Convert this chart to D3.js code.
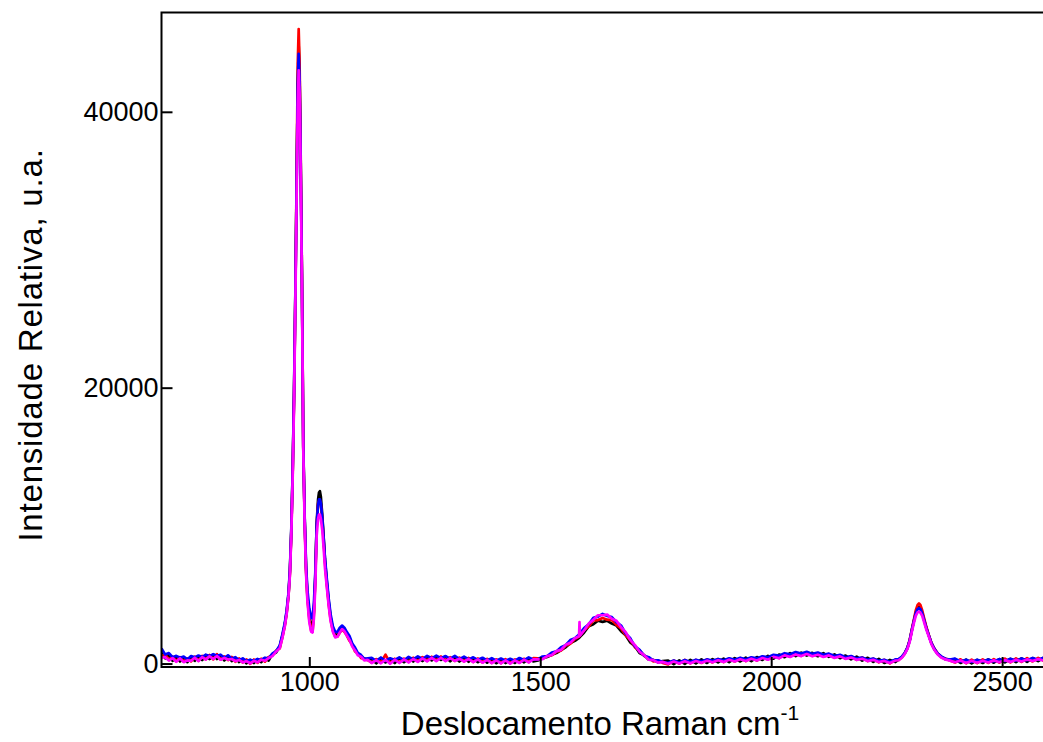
<!DOCTYPE html>
<html>
<head>
<meta charset="utf-8">
<script src="https://cdn.jsdelivr.net/npm/d3@7/dist/d3.min.js"></script>
<style>
  html, body { margin: 0; padding: 0; background: #fff; }
  svg { display: block; }
  text { font-family: "Liberation Sans", Arial, sans-serif; fill: #000; }
</style>
</head>
<body>
<svg id="chart" width="1043" height="742"></svg>
<script>
// Raman shift (cm-1) sample positions
const wavenumber = [
  680,688,696,704,712,720,728,736,744,752,760,768,776,784,792,800,808,816,824,832,840,848,856,864,872,880,888,896,904,912,920,928,936,
  942,947,951,955,958,961,964,967,970,973,975,977,979,981,984,987,990,993,996,1000,1004,1007,1010,1013,1016,1019,1021,1023,1025,1028,1031,1034,1038,1042,1046,1051,1056,1061,1066,1071,1076,1081,1087,1093,1099,1105,1112,1119,1127,
  1135,1145,1155,1165,1175,1185,1195,1205,1215,1225,1235,1245,1255,1265,1275,1285,1295,1305,1315,1325,1335,1345,1355,1365,1375,1385,1395,1405,1415,1425,1435,1445,1455,1465,1475,1485,
  1495,1505,1515,1525,1535,1545,1555,1565,1575,1584,1585,1586,1595,1605,1615,1625,1635,1645,1655,1665,1675,1685,1695,1705,1715,1725,1735,1745,1755,1765,
  1777,1789,1801,1813,1825,1837,1849,1861,1873,1885,1897,1909,1921,1933,1945,1957,1969,1981,1993,2005,2017,2029,2041,2053,2065,2077,2089,2101,2113,2125,2137,2149,2161,2173,2185,2197,2209,2221,2233,2245,2257,2269,
  2276,2283,2289,2295,2300,2305,2309,2313,2317,2320,2323,2327,2331,2336,2341,2347,2353,2360,2368,2377,2387,
  2398,2410,2422,2434,2446,2458,2470,2482,2494,2506,2518,2530,2542,2554,2566,2578,2590
];

const seriesBlack = [
  780,380,650,200,480,150,430,100,420,200,520,250,600,320,650,330,580,230,550,180,420,110,330,20,260,40,320,100,400,220,680,800,1250,
  2050,2850,3750,5000,6700,9600,13900,19600,27200,36300,41800,44800,42700,37600,28100,15600,10500,6900,4900,3400,2700,2600,3800,6300,10200,11900,12400,12500,12100,10800,9200,7500,5900,4500,3400,2500,2100,2100,2400,2600,2450,2150,1850,1330,1040,680,560,290,300,
  330,20,380,80,310,40,400,100,420,150,460,180,500,230,480,260,510,170,480,150,420,130,390,100,360,60,330,30,300,40,290,50,330,90,370,150,
  220,380,470,640,760,980,1180,1480,1650,1860,1900,1930,2250,2700,2850,3100,3020,3100,2900,2750,2350,2050,1530,1250,760,600,280,270,80,180,
  220,-40,230,-20,260,20,300,40,320,80,360,110,400,150,430,180,470,260,560,350,650,460,750,540,790,580,780,530,750,490,660,390,580,300,500,210,420,120,340,40,260,110,
  300,470,720,1120,1680,2480,3100,3680,4020,4120,4000,3680,3170,2570,2060,1460,1040,710,500,310,260,
  320,40,280,20,270,40,300,60,320,90,340,110,370,130,400,180,420
];

const seriesRed = [
  560,650,280,500,150,470,140,380,160,500,200,560,300,620,300,680,280,520,250,480,130,370,70,300,-20,290,60,350,140,480,560,930,1100,
  1950,2750,3650,4950,6500,9400,13700,19400,27000,37000,43500,46000,43500,38000,28300,15700,10300,6700,4700,3200,2400,2300,3600,6100,10000,11600,11800,11800,11500,10500,8900,7300,5700,4300,3200,2400,1950,1950,2250,2450,2300,2050,1650,1380,880,740,400,380,240,
  60,320,70,650,20,350,90,360,110,420,160,470,200,500,210,520,200,460,190,430,150,410,110,370,80,340,50,310,30,320,20,300,60,350,100,390,
  380,350,540,600,840,950,1290,1440,1780,1950,2000,2040,2420,2700,3120,3150,3300,3180,3150,2800,2550,2050,1700,1180,950,550,420,160,220,50,
  -60,220,-10,260,10,270,40,300,80,330,110,370,150,400,180,430,220,490,300,580,400,690,500,760,560,790,550,750,500,690,440,600,350,530,270,440,180,350,90,270,20,290,
  260,480,740,1150,1720,2560,3200,3850,4250,4360,4250,3850,3300,2650,2100,1500,1100,760,460,360,220,
  70,310,20,280,30,300,50,320,70,350,90,370,120,390,150,410,200
];

const seriesBlue = [
  1100,650,760,460,560,420,500,300,540,450,580,470,640,540,680,560,640,420,600,360,460,260,370,180,270,190,330,260,420,380,720,900,1300,
  2150,2950,3850,5150,6800,9700,14000,19800,27300,36000,42000,44200,42300,37400,28000,15800,10600,7100,5300,4000,3300,3300,4400,6600,10100,11500,11900,11900,11600,10600,9100,7600,6100,4700,3600,2700,2300,2300,2600,2750,2600,2300,2000,1450,1160,770,620,340,380,
  420,200,440,200,380,260,450,240,480,300,520,330,560,380,570,390,540,360,550,320,500,300,450,270,420,230,390,200,360,210,340,210,400,250,440,290,
  300,510,540,800,880,1180,1330,1700,1830,2100,2150,2180,2580,2850,3310,3400,3600,3450,3370,3000,2760,2170,1830,1250,990,570,460,220,240,110,
  60,220,80,250,110,270,170,300,200,330,240,380,280,410,310,450,370,530,460,630,570,750,670,830,720,850,700,800,640,720,550,630,460,540,370,440,280,360,190,270,120,300,
  330,500,760,1160,1700,2500,3080,3650,3950,4020,3950,3640,3150,2560,2060,1480,1080,750,520,350,280,
  360,150,280,120,270,150,290,160,320,190,340,210,370,240,400,270,430
];

const seriesMagenta = [
  420,460,220,400,120,380,100,230,200,420,180,470,290,520,330,550,280,410,290,330,170,260,80,180,20,200,90,280,200,400,540,860,1120,
  1900,2700,3600,4900,6400,9300,13500,19000,26500,35000,40500,43000,41300,36500,27500,15400,10000,6500,4500,3000,2300,2250,3300,5600,9300,10500,10800,10800,10500,9700,8400,6900,5500,4200,3100,2300,1900,1950,2250,2500,2350,2050,1720,1240,950,600,500,230,260,
  40,250,20,270,-20,280,40,300,80,330,120,370,160,410,170,420,170,390,190,350,140,330,100,300,60,260,30,240,10,230,0,230,40,280,80,310,
  310,320,540,620,900,990,1360,1500,1840,1980,3000,2030,2400,2900,3170,3500,3500,3550,3250,3100,2630,2280,1710,1340,850,610,280,250,70,120,
  -10,150,10,170,20,180,60,210,90,240,120,280,150,310,180,350,220,400,280,480,380,590,480,660,540,690,530,640,480,590,410,520,340,440,270,350,180,270,110,190,40,220,
  240,420,680,1060,1600,2380,2950,3450,3720,3760,3700,3450,3000,2450,1980,1400,1000,680,440,300,210,
  90,220,40,200,60,210,70,230,100,250,120,270,150,300,180,320,210
];

const seriesNames = ["black", "red", "blue", "magenta"];
const seriesColors = ["#000000", "#ff0000", "#0000ff", "#ff00ff"];
const xTicks = [1000, 1500, 2000, 2500];
const yTicks = [0, 20000, 40000];
const xTitle = "Deslocamento Raman cm";
const xTitleSup = "-1";
const yTitle = "Intensidade Relativa, u.a.";

const allSeries = [seriesBlack, seriesRed, seriesBlue, seriesMagenta];

const svg = d3.select("#chart");
const W = 1043, H = 742;
const plotLeft = 161.5, plotTop = 12.5, plotBottom = 667, plotRight = 1043.7;

const x = d3.scaleLinear().domain([680, 2590]).range([plotLeft, plotRight]);
const y = d3.scaleLinear().domain([-250, 47200]).range([plotBottom, plotTop]);

svg.append("defs").append("clipPath").attr("id", "plotclip")
  .append("rect").attr("x", plotLeft).attr("y", plotTop).attr("width", W - plotLeft).attr("height", plotBottom - plotTop);

const line = d3.line().x(d => x(d[0])).y(d => y(d[1]));

const g = svg.append("g").attr("clip-path", "url(#plotclip)");
allSeries.forEach((vals, i) => {
  const n = Math.min(vals.length, wavenumber.length);
  const pts = d3.range(n).map(j => [wavenumber[j], vals[j]]);
  g.append("path")
    .datum(pts)
    .attr("fill", "none")
    .attr("stroke", seriesColors[i])
    .attr("stroke-width", 2.7)
    .attr("stroke-linejoin", "round")
    .attr("d", line);
});

// frame: left, bottom, top
svg.append("path")
  .attr("d", `M${W},${plotTop}H${plotLeft}V${plotBottom}H${W}`)
  .attr("fill", "none").attr("stroke", "#000").attr("stroke-width", 2);

// x axis ticks & labels
const xAxis = d3.axisBottom(x).tickValues(xTicks).tickSize(0).tickPadding(5).tickFormat(d3.format("d"));
const gx = svg.append("g").attr("transform", `translate(0,${plotBottom})`).call(xAxis);
gx.select(".domain").remove();
gx.selectAll(".tick text").attr("font-size", 27).attr("font-family", '"Liberation Sans", Arial, sans-serif').attr("fill", "#000");
gx.selectAll(".tick").append("line").attr("y1", 0).attr("y2", -10).attr("stroke", "#000").attr("stroke-width", 2);

// y axis ticks & labels
const yAxis = d3.axisLeft(y).tickValues(yTicks).tickSize(0).tickPadding(3).tickFormat(d3.format("d"));
const gy = svg.append("g").attr("transform", `translate(${plotLeft},0)`).call(yAxis);
gy.select(".domain").remove();
gy.selectAll(".tick text").attr("font-size", 27).attr("font-family", '"Liberation Sans", Arial, sans-serif').attr("fill", "#000");
gy.selectAll(".tick").append("line").attr("x1", 0).attr("x2", 11).attr("stroke", "#000").attr("stroke-width", 2);

// titles
const xt = svg.append("text").attr("x", 600).attr("y", 735).attr("text-anchor", "middle").attr("font-size", 33);
xt.append("tspan").text(xTitle);
xt.append("tspan").attr("dy", -15).attr("font-size", 21).text(xTitleSup);

svg.append("text")
  .attr("transform", "translate(42,345) rotate(-90)")
  .attr("text-anchor", "middle").attr("font-size", 33)
  .attr("letter-spacing", 0.8)
  .text(yTitle);
</script>
</body>
</html>
